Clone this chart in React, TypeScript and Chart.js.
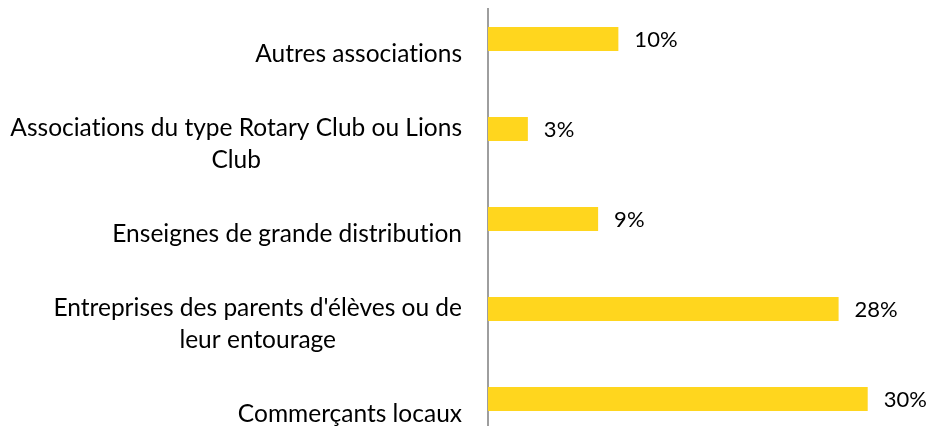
import React, { useEffect, useRef } from "react";
import { Chart, registerables } from "chart.js";

Chart.register(...registerables);

const categories: string[][] = [
  ["Autres associations"],
  ["Associations du type Rotary Club ou Lions", "Club"],
  ["Enseignes de grande distribution"],
  ["Entreprises des parents d'élèves ou de", "leur entourage"],
  ["Commerçants locaux"],
];
const values: number[] = [10.3, 3.15, 8.7, 27.7, 30.0];
const valueLabels: string[] = ["10%", "3%", "9%", "28%", "30%"];
const spacerValues: (number | null)[] = [null, null, null, null, null];

const FONT = "Lato, 'Open Sans', sans-serif";
const CAT_FONT_SIZE = 24.5;
const VAL_FONT_SIZE = 22;
const LINE_H = 32;

// avoid Lato's "ti" ligature by inserting a zero-width non-joiner at draw time
const noLig = (s: string) => s.replace(/t(?=i)/g, "t\u200C").replace(/f(?=[il])/g, "f\u200C");

const labelsPlugin = {
  id: "customLabels",
  afterDatasetsDraw(chart: any) {
    const ctx = chart.ctx;
    const yScale = chart.scales.y;
    const area = chart.chartArea;
    ctx.save();
    ctx.fillStyle = "#000";
    ctx.textBaseline = "middle";
    ctx.font = `${CAT_FONT_SIZE}px ${FONT}`;
    const rightEdge = area.left - 26;
    categories.forEach((lines, i) => {
      const cy = yScale.getPixelForValue(i);
      const drawn = lines.map(noLig);
      const maxW = Math.max(...drawn.map((l) => ctx.measureText(l).width));
      const cx = rightEdge - maxW / 2;
      ctx.textAlign = "center";
      const startY = cy - ((lines.length - 1) * LINE_H) / 2;
      drawn.forEach((l, j) => ctx.fillText(l, cx, startY + j * LINE_H));
    });
    ctx.font = `${VAL_FONT_SIZE}px ${FONT}`;
    ctx.textAlign = "left";
    const meta = chart.getDatasetMeta(0);
    meta.data.forEach((el: any, i: number) => {
      ctx.fillText(valueLabels[i], el.x + 16, el.y + 1);
    });
    ctx.restore();
  },
};

export default function App() {
  const ref = useRef<HTMLCanvasElement | null>(null);
  useEffect(() => {
    if (!ref.current) return;
    const chart = new Chart(ref.current, {
      type: "bar",
      data: {
        labels: categories.map((c) => c.join(" ")),
        datasets: [
          {
            data: values,
            backgroundColor: "#FFD61E",
            borderWidth: 0,
            categoryPercentage: 0.667,
            barPercentage: 0.8,
          },
          {
            data: spacerValues as any,
            backgroundColor: "rgba(0,0,0,0)",
            categoryPercentage: 0.667,
            barPercentage: 0.8,
          },
        ],
      },
      options: {
        indexAxis: "y",
        animation: false,
        responsive: false,
        maintainAspectRatio: false,
        layout: { padding: { top: 9, bottom: 1, left: 0, right: 3 } },
        plugins: { legend: { display: false }, tooltip: { enabled: false } },
        scales: {
          x: { display: false, min: 0, max: 35 },
          y: {
            display: true,
            grid: { display: false },
            ticks: { display: false },
            border: { display: true, color: "#9E9E9E", width: 2 },
            afterFit(scale: any) {
              scale.width = 488;
            },
          },
        },
      },
      plugins: [labelsPlugin],
    });
    return () => chart.destroy();
  }, []);
  return (
    <div
      style={{
        position: "fixed",
        left: 0,
        top: 0,
        width: 934,
        height: 426,
        overflow: "hidden",
        background: "#fff",
      }}
    >
      <canvas ref={ref} width={934} height={460} style={{ width: 934, height: 460, display: "block" }} />
    </div>
  );
}
